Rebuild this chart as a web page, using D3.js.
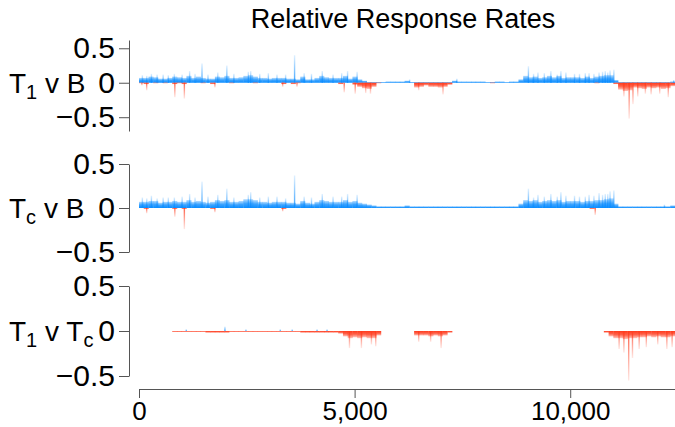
<!DOCTYPE html>
<html><head><meta charset="utf-8">
<script src="https://cdn.jsdelivr.net/npm/d3@7"></script>
<style>body{margin:0;background:#fff}svg{display:block;font-family:"Liberation Sans",Arial,Helvetica,sans-serif}</style>
</head><body><svg id="c" width="675" height="427"></svg>
<script>
// ---------------- data ----------------
const title = "Relative Response Rates";
const xMax = 12430;
const binSize = 110;
const xMajorTicks = [0, 5000, 10000];
const xMinorTicks = d3.range(0, 12001, 1000);
const yMajorTicks = [0.5, 0, -0.5];

// Panel 1: T1 v B  (dense level per 110-item bin)
const p1PosBody = [0.07,0.07,0.09,0.08,0.06,0.06,0.07,0.09,0.08,0.07,
  0.10,0.07,0.09,0.07,0.06,0.06,0.09,0.08,0.10,0.07,
  0.07,0.08,0.10,0.11,0.09,0.07,0.07,0.06,0.07,0.07,
  0.07,0.06,0.06,0.05,0.09,0.05,0.05,0.07,0.10,0.08,
  0.07,0.07,0.07,0.10,0.06,0.09,0.05,0.03,0.01,0.01,
  0.01,0.01,0.02,0.02,0.02,0.02,0.03,0.01,0.01,0.01,
  0.01,0.01,0.01,0.01,0.01,0.01,0.03,0.02,0.02,0.02,
  0.02,0.02,0.02,0.01,0.01,0.02,0.02,0.01,0.02,0.02,
  0.05,0.10,0.08,0.09,0.07,0.08,0.10,0.08,0.10,0.07,
  0.08,0.08,0.08,0.07,0.09,0.07,0.09,0.10,0.11,0.11,
  0.04,0.01,0.01,0.01,0.01,0.01,0.01,0.01,0.01,0.01,0.01,0.01,0.02];
const p1NegBody = [-0.01,-0.02,0,-0.01,0,-0.01,0,-0.02,-0.01,-0.02,
  0,0,0,-0.01,0,-0.02,0,0,0,-0.01,
  0,0,0,0,-0.01,0,0,0,0,0,
  -0.02,0,-0.02,-0.01,0,0,0,0,0,0,
  0,0,-0.02,0,0,-0.03,-0.06,-0.08,-0.09,-0.06,
  -0.01,0,0,0,0,0,0,0,-0.07,-0.06,
  -0.04,-0.06,-0.06,-0.07,-0.06,-0.03,0,0,0,0,
  0,0,0,0,-0.01,0,0,0,0,0,
  0,0,0,0,0,0,0,0,0,0,
  0,0,0,0,0,0,-0.01,0,0,0,
  -0.02,-0.10,-0.12,-0.11,-0.07,-0.08,-0.09,-0.07,-0.08,-0.07,-0.09,-0.08,-0.05];
const p1PosSpikes = [[78,0.11],[180,0.10],[288,0.13],[420,0.12],[560,0.12],[680,0.11],[820,0.13],[1000,0.12],
  [1174,0.17],[1300,0.13],[1461,0.28],[1600,0.12],[1827,0.15],[2037,0.25],[2200,0.13],
  [2535,0.16],[2590,0.17],[2800,0.13],[3000,0.14],[3200,0.12],[3400,0.12],[3608,0.40],[3830,0.14],
  [4000,0.13],[4250,0.17],[4500,0.12],[4700,0.14],[4837,0.17],[5058,0.16],[6276,0.05],
  [7371,0.06],[9031,0.24],[9150,0.13],[9252,0.15],[9400,0.14],[9551,0.17],[9700,0.12],[9784,0.17],
  [9900,0.15],[10100,0.13],[10215,0.13],[10350,0.14],[10437,0.14],[10550,0.13],[10669,0.15],
  [10750,0.16],[10813,0.17],[10870,0.15],[10924,0.18],[11012,0.19],[12400,0.04]];
const p1NegSpikes = [[67,-0.04],[178,-0.11],[831,-0.21],[1052,-0.23],[1760,-0.07],[3332,-0.06],[3664,-0.06],
  [4759,-0.14],[5014,-0.16],[5257,-0.15],[5368,-0.16],[6486,-0.11],[7050,-0.17],[11245,-0.20],
  [11367,-0.52],[11455,-0.31],[11566,-0.20],[11743,-0.16],[11876,-0.17],[12075,-0.16],[12274,-0.21]];

// Panel 2: Tc v B
const p2PosBody = [0.07,0.07,0.08,0.08,0.06,0.07,0.07,0.08,0.07,0.07,
  0.09,0.07,0.08,0.07,0.06,0.07,0.09,0.08,0.09,0.07,
  0.07,0.08,0.10,0.10,0.09,0.07,0.07,0.06,0.07,0.07,
  0.07,0.06,0.06,0.05,0.08,0.06,0.05,0.07,0.09,0.08,
  0.07,0.07,0.07,0.09,0.07,0.08,0.06,0.05,0.04,0.03,
  0.02,0.02,0.02,0.02,0.02,0.02,0.03,0.02,0.02,0.02,
  0.02,0.02,0.02,0.02,0.02,0.02,0.02,0.02,0.02,0.02,
  0.02,0.02,0.02,0.02,0.02,0.02,0.02,0.02,0.02,0.02,
  0.05,0.09,0.08,0.09,0.07,0.08,0.09,0.08,0.09,0.07,
  0.08,0.08,0.08,0.07,0.08,0.08,0.09,0.09,0.10,0.11,
  0.05,0.02,0.02,0.02,0.02,0.02,0.02,0.02,0.02,0.02,0.02,0.02,0.03];
const p2NegBody = [0,-0.01,0,0,0,0,0,-0.01,0,-0.01,
  0,0,0,0,0,-0.01,0,0,0,0,
  0,0,0,0,0,0,0,0,0,0,
  -0.01,0,0,0,0,0,0,0,0,0,
  0,0,0,0,0,0,0,0,0,0,
  0,0,0,0,0,0,0,0,0,0,
  0,0,0,0,0,0,0,0,0,0,
  0,0,0,0,0,0,0,0,0,0,
  0,0,0,0,0,0,0,0,0,0,
  0,0,0,0,0,-0.01,0,0,0,0,
  0,0,0,0,0,0,0,0,0,0,0,0,0];
const p2PosSpikes = [[78,0.12],[180,0.11],[288,0.14],[420,0.11],[560,0.12],[680,0.12],[820,0.12],[1000,0.13],
  [1174,0.16],[1300,0.12],[1461,0.30],[1600,0.13],[1827,0.15],[2037,0.22],[2200,0.12],
  [2535,0.15],[2590,0.18],[2800,0.12],[3000,0.13],[3200,0.13],[3400,0.11],[3608,0.37],[3830,0.13],
  [4000,0.12],[4250,0.16],[4500,0.13],[4700,0.13],[4837,0.16],[5058,0.15],[9031,0.22],[9150,0.12],
  [9252,0.15],[9400,0.13],[9551,0.16],[9700,0.13],[9784,0.18],[9900,0.14],[10100,0.14],[10215,0.13],
  [10350,0.13],[10437,0.15],[10550,0.14],[10669,0.17],[10750,0.15],[10813,0.16],[10870,0.16],[10924,0.19],
  [11012,0.20],[12185,0.04]];
const p2NegSpikes = [[178,-0.06],[831,-0.10],[1052,-0.24],[1760,-0.05],[3332,-0.04],[10580,-0.08]];

// Panel 3: T1 v Tc
const p3PosBody = d3.range(113).map(() => 0);
const p3NegBody = [0,0,0,0,0,0,0,-0.01,-0.01,-0.01,
  -0.01,-0.01,-0.01,-0.01,-0.02,-0.02,-0.02,-0.02,-0.02,-0.01,
  -0.01,-0.01,-0.01,-0.01,-0.01,-0.01,-0.01,-0.01,-0.01,-0.01,
  -0.01,-0.01,-0.01,-0.01,-0.02,-0.02,-0.02,-0.02,-0.02,-0.02,
  -0.02,-0.02,-0.03,-0.06,-0.08,-0.07,-0.08,-0.07,-0.08,-0.08,
  -0.05,0,0,0,0,0,0,0,-0.05,-0.05,
  -0.05,-0.06,-0.05,-0.06,-0.05,-0.02,0,0,0,0,
  0,0,0,0,0,0,0,0,0,0,
  0,0,0,0,0,0,0,0,0,0,
  0,0,0,0,0,0,0,0,-0.02,-0.06,
  -0.08,-0.08,-0.09,-0.08,-0.08,-0.07,-0.07,-0.06,-0.07,-0.06,-0.07,-0.07,-0.06];
const p3PosSpikes = [[1096,0.02],[1993,0.05],[2480,0.02],[3276,0.02],[3553,0.02],[4129,0.02],[4361,0.02]];
const p3NegSpikes = [[4881,-0.19],[5158,-0.19],[5390,-0.15],[5490,-0.17],[6486,-0.12],[6763,-0.12],
  [7006,-0.19],[11134,-0.20],[11245,-0.24],[11356,-0.55],[11444,-0.30],[11599,-0.20],[11765,-0.18],
  [12030,-0.15],[12241,-0.20],[12363,-0.18]];

const rowLabels = [["T","1"," v B"], ["T","c"," v B"], ["T","1"," v T","c"]];

// ---------------- layout ----------------
const W = 675, H = 427;
const axisX = 129, x0px = 139, xEnd = 675;
const panels = [
  {label: rowLabels[0], posBody: p1PosBody, negBody: p1NegBody, posSpikes: p1PosSpikes, negSpikes: p1NegSpikes,
   domain: [-0.70, 0.62], range: [131, 40], minor: d3.range(-7, 7).map(d => d / 10)},
  {label: rowLabels[1], posBody: p2PosBody, negBody: p2NegBody, posSpikes: p2PosSpikes, negSpikes: p2NegSpikes,
   domain: [-0.5, 0.5], range: [252, 164], minor: d3.range(-5, 6).map(d => d / 10)},
  {label: rowLabels[2], posBody: p3PosBody, negBody: p3NegBody, posSpikes: p3PosSpikes, negSpikes: p3NegSpikes,
   domain: [-0.5, 0.5], range: [376, 286], minor: d3.range(-5, 6).map(d => d / 10)}
];
const BLUE = "#0a8cff", RED = "#ff3a1c";
const axisColor = "#555";
const yFont = 30, xFont = 26, labelFont = 28;

const svg = d3.select("#c");
const x = d3.scaleLinear().domain([0, xMax]).range([x0px, xEnd]);

const defs = svg.append("defs");
function grad(id, color, dirUp, stops) {
  const g = defs.append("linearGradient").attr("id", id)
    .attr("x1", 0).attr("x2", 0).attr("y1", dirUp ? 1 : 0).attr("y2", dirUp ? 0 : 1);
  stops.forEach(([o, a]) => g.append("stop").attr("offset", o).attr("stop-color", color).attr("stop-opacity", a));
}
grad("bBody", BLUE, true, [[0, 1], [0.5, 0.8], [1, 0.3]]);
grad("rBody", RED, false, [[0, 1], [0.5, 0.8], [1, 0.3]]);
grad("bSpike", BLUE, true, [[0, 0.8], [1, 0.12]]);
grad("rSpike", RED, false, [[0, 0.8], [1, 0.12]]);
defs.append("clipPath").attr("id", "clipX").append("rect")
  .attr("x", x0px).attr("y", 0).attr("width", xEnd - x0px).attr("height", H);

svg.append("text").attr("x", 403).attr("y", 28).attr("text-anchor", "middle")
  .attr("font-size", 27).attr("fill", "#000").text(title);

panels.forEach((p, pi) => {
  const y = d3.scaleLinear().domain(p.domain).range(p.range);
  const g = svg.append("g");
  const data = g.append("g").attr("clip-path", "url(#clipX)");
  const bw = x(binSize) - x(0);
  p.posBody.forEach((v, i) => {
    if (v > 0) data.append("rect").attr("x", x(i * binSize)).attr("width", bw + 0.3)
      .attr("y", y(v)).attr("height", y(0) - y(v)).attr("fill", "url(#bBody)");
  });
  p.negBody.forEach((v, i) => {
    if (v < 0) data.append("rect").attr("x", x(i * binSize)).attr("width", bw + 0.3)
      .attr("y", y(0)).attr("height", y(v) - y(0)).attr("fill", "url(#rBody)");
  });
  p.posSpikes.forEach(([pos, v]) => {
    data.append("rect").attr("x", x(pos) - 0.7).attr("width", 1.4)
      .attr("y", y(v)).attr("height", y(0) - y(v)).attr("fill", "url(#bSpike)");
  });
  p.negSpikes.forEach(([pos, v]) => {
    data.append("rect").attr("x", x(pos) - 0.7).attr("width", 1.4)
      .attr("y", y(0)).attr("height", y(v) - y(0)).attr("fill", "url(#rSpike)");
  });

  const ax = g.append("g").attr("transform", `translate(${axisX},0)`);
  ax.call(d3.axisLeft(y).tickValues(p.minor).tickSize(5).tickSizeOuter(0).tickFormat(""));
  ax.call(d3.axisLeft(y).tickValues(yMajorTicks).tickSize(10).tickSizeOuter(0).tickPadding(4)
    .tickFormat(d => d === 0 ? "0" : d3.format(".1f")(d)));
  ax.selectAll("path,line").attr("stroke", axisColor);
  ax.selectAll("text").attr("font-size", yFont).attr("fill", "#000")
    .attr("font-family", '"Liberation Sans",Arial,sans-serif');

  const t = g.append("text").attr("x", 9).attr("y", y(0) + 10).attr("font-size", labelFont).attr("fill", "#000");
  p.label.forEach((s, k) => {
    const isSub = (k === 1 || k === 3);
    const ts = t.append("tspan").text(s);
    if (isSub) ts.attr("font-size", 20).attr("dy", 6);
    else if (k > 0) ts.attr("dy", -6);
  });
});

const xa = svg.append("g").attr("transform", "translate(0,389)");
xa.call(d3.axisBottom(x).tickValues(xMinorTicks).tickSize(5).tickSizeOuter(0).tickFormat(""));
xa.call(d3.axisBottom(x).tickValues(xMajorTicks).tickSize(9).tickSizeOuter(0).tickPadding(4)
  .tickFormat(d3.format(",")));
xa.selectAll("path,line").attr("stroke", axisColor);
xa.selectAll("text").attr("font-size", xFont).attr("fill", "#000")
  .attr("font-family", '"Liberation Sans",Arial,sans-serif');
</script></body></html>
